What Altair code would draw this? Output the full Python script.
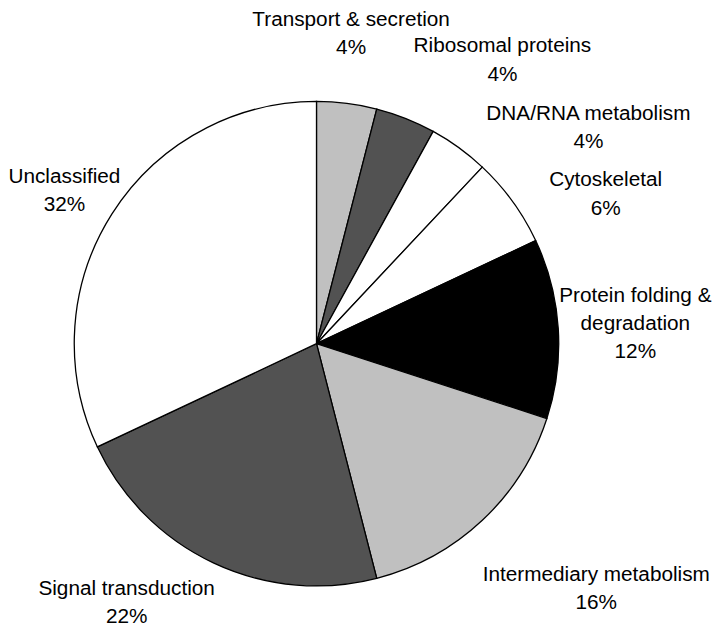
import altair as alt
import pandas as pd

# ---- data ----
categories = ["Transport & secretion", "Ribosomal proteins", "DNA/RNA metabolism",
              "Cytoskeletal", "Protein folding & degradation", "Intermediary metabolism",
              "Signal transduction", "Unclassified"]
percent = [4, 4, 4, 6, 12, 16, 22, 32]
label_names = ["Transport & secretion", "Ribosomal proteins", "DNA/RNA metabolism",
               "Cytoskeletal", "Protein folding &\ndegradation", "Intermediary metabolism",
               "Signal transduction", "Unclassified"]
fills = ["#c0c0c0", "#525252", "#ffffff", "#ffffff", "#000000", "#c0c0c0", "#525252", "#ffffff"]

# label layout (polar, first text line, around pie centre):
# angle in degrees clockwise from top, distance in px
label_angle = [6.11, 32.03, 49.85, 60.57, 81.45, 129.59, 217.75, 303.46]
label_dist = [328.9, 354.5, 359.8, 335.8, 326.1, 367.2, 313.6, 305.6]

df = pd.DataFrame({
    "category": categories,
    "percent": percent,
    "order": list(range(len(categories))),
    "label": [n + "\n" + f"{p}%" for n, p in zip(label_names, percent)],
    "angle": label_angle,
    "dist": label_dist,
})

cx, cy, R = 312, 336, 245

pie = alt.Chart(df).mark_arc(outerRadius=R, stroke="#000000", strokeWidth=1.3).encode(
    theta=alt.Theta("percent:Q", stack=True),
    order=alt.Order("order:Q"),
    color=alt.Color("category:N", scale=alt.Scale(domain=categories, range=fills), legend=None),
    x=alt.value(cx),
    y=alt.value(cy),
)

labels = alt.Chart(df).mark_text(
    font="Liberation Sans", fontSize=21, lineBreak="\n", lineHeight=28.5,
    align="center", baseline="middle", color="#000000",
).encode(
    theta=alt.Theta("angle:Q", stack=False, scale=alt.Scale(domain=[0, 360], range=[0, 6.283185307179586])),
    radius=alt.Radius("dist:Q", scale=None),
    text="label:N",
    x=alt.value(cx),
    y=alt.value(cy),
)

chart = alt.layer(pie, labels).resolve_scale(theta="independent").properties(
    width=712, height=619,
    autosize=alt.AutoSizeParams(type="none"),
    padding=0,
).configure_view(stroke=None)

chart.save("out.html", embed_options={"renderer": "svg", "actions": False})
